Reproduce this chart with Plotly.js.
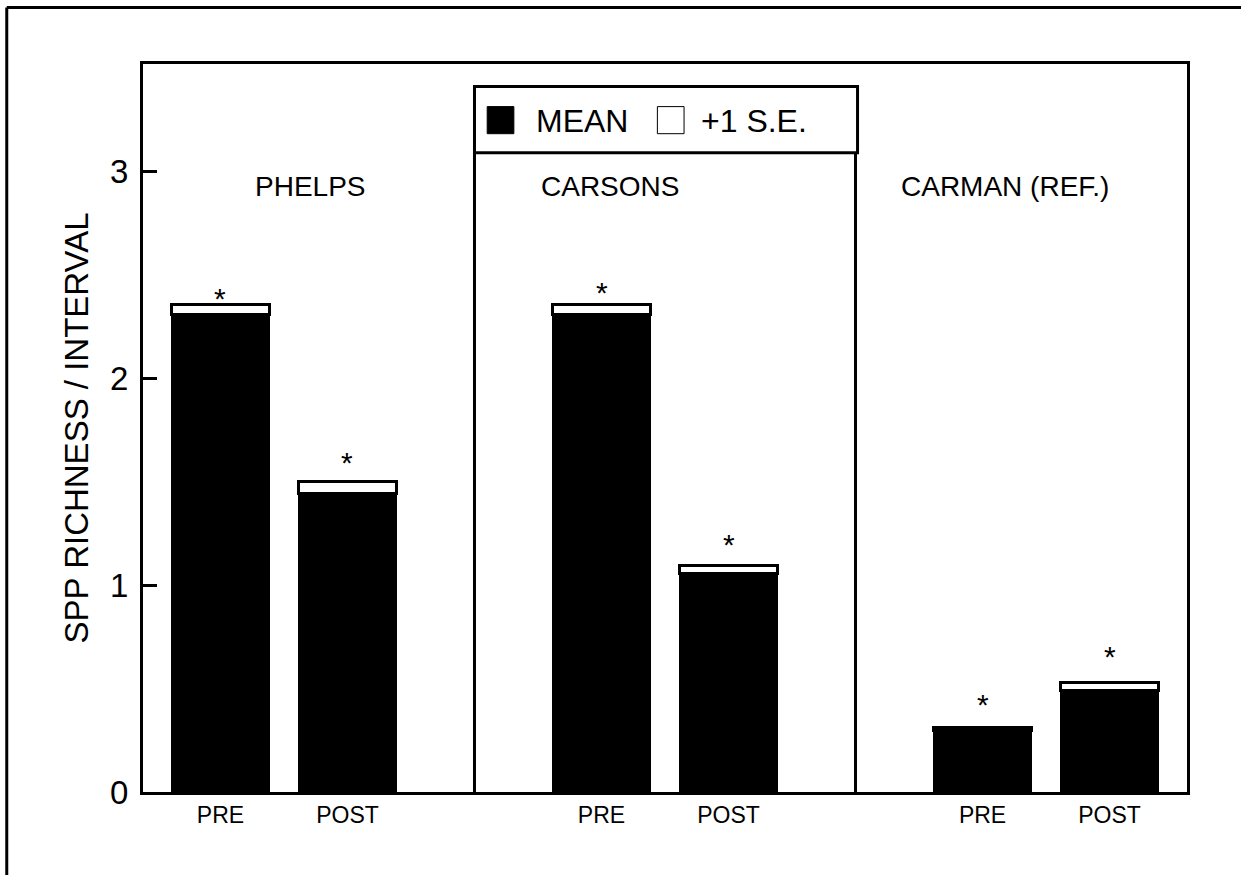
<!DOCTYPE html>
<html>
<head>
<meta charset="utf-8">
<script src="https://cdn.plot.ly/plotly-3.0.1.min.js"></script>
<style>
html,body{margin:0;padding:0;background:#fff;}
#chart{width:1241px;height:875px;}
</style>
</head>
<body>
<div id="chart"></div>
<script>
// ---- data ----
const groups = ['PHELPS', 'CARSONS', 'CARMAN (REF.)'];
const periods = ['PRE', 'POST'];
// order: PHELPS PRE, PHELPS POST, CARSONS PRE, CARSONS POST, CARMAN PRE, CARMAN POST
const meanVals = [2.31, 1.445, 2.31, 1.055, 0.295, 0.49];
const seVals   = [0.048, 0.055, 0.048, 0.04, 0.015, 0.04];
const starVals = [2.40, 1.61, 2.43, 1.21, 0.44, 0.67];
const yTickVals = [0, 1, 2, 3];
const legendLabels = ['MEAN', '+1 S.E.'];
const yTitle = 'SPP RICHNESS / INTERVAL';

// ---- layout helpers (positions, not data) ----
const GROUP_STEP = 3;           // slots between group starts
const xPos = [], xText = [];
groups.forEach((g, gi) => periods.forEach((p, pi) => {
  xPos.push(gi * GROUP_STEP + pi);
  xText.push(p);
}));
const FONT = 'Liberation Sans, Arial, sans-serif';
const BAR_W = 0.77;

const traces = [
  {
    type: 'bar', name: legendLabels[0], x: xPos, y: meanVals, width: BAR_W,
    marker: {color: '#000', line: {color: '#000', width: 1}},
    showlegend: false, hoverinfo: 'y'
  },
  {
    type: 'bar', name: legendLabels[1], x: xPos, y: seVals, width: BAR_W,
    marker: {color: '#fff', line: {color: '#000', width: 3}},
    showlegend: false, hoverinfo: 'y'
  }
];

const annotations = [];
// asterisks
xPos.forEach((x, i) => annotations.push({
  x: x, y: starVals[i], xref: 'x', yref: 'y', text: '*', showarrow: false,
  font: {family: FONT, size: 30, color: '#000'}, yanchor: 'middle', yshift: -3
}));
// group labels
const groupLabelX = [0.71, 3.07, 6.18];
groups.forEach((g, gi) => annotations.push({
  x: groupLabelX[gi], y: 2.93, xref: 'x', yref: 'y', text: g, showarrow: false,
  font: {family: FONT, size: 28, color: '#000'}, xanchor: 'center', yanchor: 'middle'
}));
// legend texts
annotations.push({x: 2.47, y: 3.246, xref: 'x', yref: 'y', text: legendLabels[0], showarrow: false,
  font: {family: FONT, size: 32, color: '#000'}, xanchor: 'left', yanchor: 'middle'});
annotations.push({x: 3.77, y: 3.246, xref: 'x', yref: 'y', text: legendLabels[1], showarrow: false,
  font: {family: FONT, size: 32, color: '#000'}, xanchor: 'left', yanchor: 'middle'});

const sepX = [(1 + GROUP_STEP) / 2, (1 + GROUP_STEP) / 2 + GROUP_STEP];
const legendBottom = 3.091, legendTop = 3.411;
const shapes = [
  // separators between groups
  ...sepX.map(x => ({type: 'line', xref: 'x', yref: 'y', x0: x, x1: x, y0: 0, y1: legendBottom,
    line: {color: '#000', width: 3}})),
  // legend box
  {type: 'rect', xref: 'x', yref: 'y', x0: sepX[0], x1: sepX[1] + 0.016, y0: legendBottom, y1: legendTop,
    line: {color: '#000', width: 3}, fillcolor: '#fff'},
  // legend swatches
  {type: 'rect', xref: 'x', yref: 'y', x0: 2.10, x1: 2.31, y0: 3.183, y1: 3.314,
    line: {color: '#000', width: 1}, fillcolor: '#000'},
  {type: 'rect', xref: 'x', yref: 'y', x0: 3.44, x1: 3.65, y0: 3.183, y1: 3.314,
    line: {color: '#000', width: 1}, fillcolor: '#fff'},
  // outer frame (left + top)
  {type: 'line', xref: 'paper', yref: 'paper', x0: -0.1305, x1: -0.1305, y0: -0.15, y1: 1.0775,
    line: {color: '#000', width: 3}},
  {type: 'line', xref: 'paper', yref: 'paper', x0: -0.1305, x1: 1.06, y0: 1.0775, y1: 1.0775,
    line: {color: '#000', width: 3}}
];

const layout = {
  width: 1241, height: 875,
  margin: {l: 143, r: 54, t: 64, b: 83},
  paper_bgcolor: '#fff', plot_bgcolor: '#fff',
  barmode: 'stack',
  showlegend: false,
  font: {family: FONT, color: '#000'},
  xaxis: {
    range: [-0.61, 7.61], tickvals: xPos, ticktext: xText, ticks: '',
    showgrid: false, zeroline: false, showline: true, mirror: true,
    linecolor: '#000', linewidth: 3,
    tickfont: {family: FONT, size: 23, color: '#000'}
  },
  yaxis: {
    range: [0, 3.52], tickvals: yTickVals, ticks: 'inside', ticklen: 14, tickwidth: 3, tickcolor: '#000',
    showgrid: false, zeroline: false, showline: true, mirror: true,
    linecolor: '#000', linewidth: 3, ticklabelstandoff: 5,
    tickfont: {family: FONT, size: 33, color: '#000'},
    title: {text: yTitle, font: {family: FONT, size: 33, color: '#000'}, standoff: 12}
  },
  annotations: annotations,
  shapes: shapes
};

Plotly.newPlot('chart', traces, layout, {displayModeBar: false, staticPlot: true});
</script>
</body>
</html>
